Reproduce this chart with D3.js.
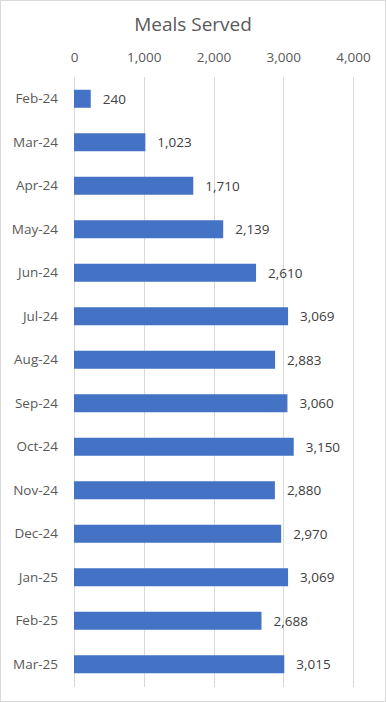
<!DOCTYPE html>
<html>
<head>
<meta charset="utf-8">
<script src="https://cdn.jsdelivr.net/npm/d3@7"></script>
<style>
  body { margin: 0; background: #fff; }
  text { font-family: "Open Sans", sans-serif; fill: #595959; }
</style>
</head>
<body>
<div id="chart"></div>
<script>
var months = ["Feb-24", "Mar-24", "Apr-24", "May-24", "Jun-24", "Jul-24", "Aug-24",
  "Sep-24", "Oct-24", "Nov-24", "Dec-24", "Jan-25", "Feb-25", "Mar-25"];
var meals = [240, 1023, 1710, 2139, 2610, 3069, 2883, 3060, 3150, 2880, 2970, 3069, 2688, 3015];
var tickValues = [0, 1000, 2000, 3000, 4000];

var svgWidth = 386;
var svgHeight = 702;

var margin = { top: 77, right: 33, bottom: 16, left: 74 };

var data = months.map(function(m, i) { return { month: m, value: meals[i] }; });

var svg = d3.select("#chart")
  .append("svg")
  .attr("width", svgWidth)
  .attr("height", svgHeight);

// chart border
svg.append("rect")
  .attr("x", 0.5).attr("y", 0.5)
  .attr("width", svgWidth - 1).attr("height", svgHeight - 1)
  .attr("fill", "#fff")
  .attr("stroke", "#d9d9d9");

var chartGroup = svg.append("g")
  .attr("transform", `translate(${margin.left}, ${margin.top})`);

var xScale = d3.scaleLinear()
  .domain([0, 4000])
  .range([0, 279]);

var yScale = d3.scaleBand()
  .domain(months)
  .range([0, 609])
  .paddingInner(0.586)
  .paddingOuter(0.293);

// gridlines
chartGroup.selectAll(".grid")
  .data(tickValues)
  .enter()
  .append("line")
  .attr("x1", d => Math.round(xScale(d)) + 0.5)
  .attr("x2", d => Math.round(xScale(d)) + 0.5)
  .attr("y1", 0)
  .attr("y2", 610)
  .attr("stroke", "#d9d9d9");

// top axis labels
var xAxis = d3.axisTop(xScale)
  .tickValues(tickValues)
  .tickFormat(d3.format(","))
  .tickSize(0)
  .tickPadding(15);

var axisG = chartGroup.append("g").call(xAxis);
axisG.select(".domain").remove();
axisG.selectAll("text")
  .attr("font-size", 13.5)
  .attr("fill", "#595959")
  .style("font-family", "'Open Sans', sans-serif");

// category labels
var yAxis = d3.axisLeft(yScale).tickSize(0).tickPadding(16);
var yG = chartGroup.append("g").call(yAxis);
yG.select(".domain").remove();
yG.selectAll("text")
  .attr("font-size", 13.5)
  .attr("fill", "#595959")
  .style("font-family", "'Open Sans', sans-serif");

// bars
chartGroup.selectAll("rect.bar")
  .data(data)
  .enter()
  .append("rect")
  .attr("class", "bar")
  .attr("x", 0)
  .attr("y", d => yScale(d.month))
  .attr("width", d => xScale(d.value))
  .attr("height", yScale.bandwidth())
  .attr("fill", "#4472C4");

// value labels
chartGroup.selectAll("text.val")
  .data(data)
  .enter()
  .append("text")
  .attr("class", "val")
  .attr("x", d => xScale(d.value) + 12)
  .attr("y", d => yScale(d.month) + yScale.bandwidth() / 2)
  .attr("dy", "0.36em")
  .attr("font-size", 13.5)
  .style("fill", "#404040")
  .text(d => d3.format(",")(d.value));

// title
svg.append("text")
  .attr("x", 193)
  .attr("y", 31)
  .attr("text-anchor", "middle")
  .attr("font-size", 19)
  .text("Meals Served");
</script>
</body>
</html>
